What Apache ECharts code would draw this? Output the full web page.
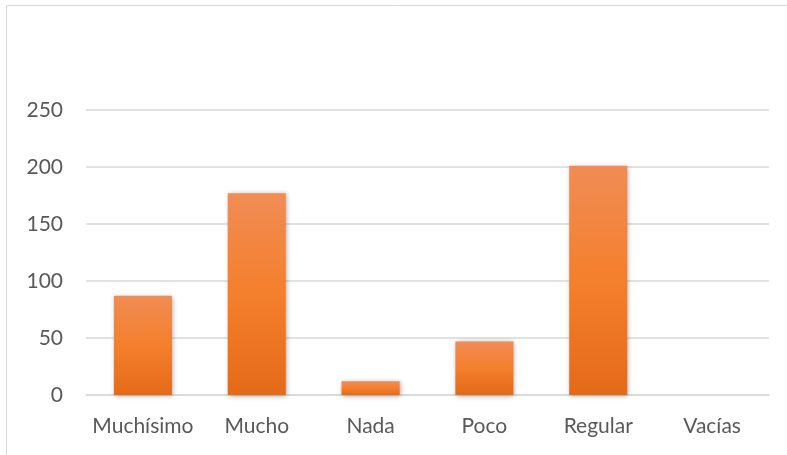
<!DOCTYPE html>
<html>
<head>
<meta charset="utf-8">
<script src="https://cdn.jsdelivr.net/npm/echarts@6/dist/echarts.min.js"></script>
<style>
html,body{margin:0;padding:0;background:#fff;}
#c{width:787px;height:455px;}
</style>
</head>
<body>
<div id="c"></div>
<script>
const categories = ['Muchísimo', 'Mucho', 'Nada', 'Poco', 'Regular', 'Vacías'];
const values = [87, 177, 12, 47, 201, 0];
const yTicks = [0, 50, 100, 150, 200, 250];

const chart = echarts.init(document.getElementById('c'), null, {renderer: 'canvas'});
const font = 'Lato, "Open Sans", sans-serif';
chart.setOption({
  animation: false,
  backgroundColor: '#fff',
  graphic: [{
    type: 'rect',
    shape: {x: 6.5, y: 5.5, width: 800, height: 470},
    style: {fill: 'none', stroke: '#D9D9D9', lineWidth: 1},
    silent: true
  }],
  grid: {left: 86, right: 18, top: 110, bottom: 60, containLabel: false},
  xAxis: {
    type: 'category',
    data: categories,
    axisLine: {show: true, lineStyle: {color: '#D9D9D9', width: 1.5}},
    axisTick: {show: false},
    axisLabel: {interval: 0, hideOverlap: false, color: '#595959', fontFamily: font, fontSize: 21, margin: 21}
  },
  yAxis: {
    type: 'value',
    min: yTicks[0],
    max: yTicks[yTicks.length - 1],
    interval: 50,
    axisLine: {show: false},
    axisTick: {show: false},
    splitLine: {lineStyle: {color: '#D9D9D9', width: 1.5}},
    axisLabel: {color: '#595959', fontFamily: font, fontSize: 21, margin: 23}
  },
  series: [{
    type: 'bar',
    data: values,
    barCategoryGap: '49%',
    itemStyle: {
      color: new echarts.graphic.LinearGradient(0, 0, 0, 1, [
        {offset: 0, color: '#F08C55'},
        {offset: 0.5, color: '#F47F2C'},
        {offset: 1, color: '#E46A18'}
      ]),
      shadowColor: 'rgba(0,0,0,0.35)',
      shadowBlur: 5,
      shadowOffsetX: 1,
      shadowOffsetY: 1
    }
  }]
});
</script>
</body>
</html>
